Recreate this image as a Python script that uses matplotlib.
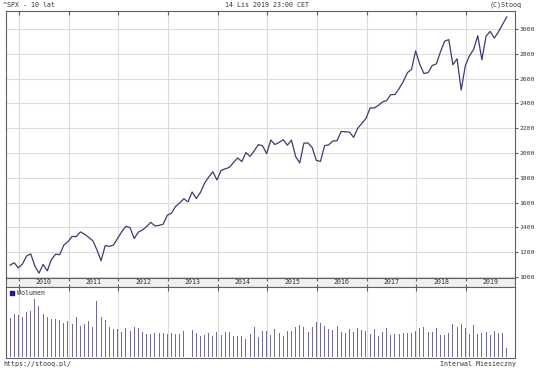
import matplotlib
matplotlib.use("Agg")
import matplotlib.pyplot as plt
import numpy as np

# S&P 500 monthly closes, Nov 2009 .. Nov 2019
close = [
    1095.6, 1115.1,
    1073.9, 1104.5, 1169.4, 1186.7, 1089.4, 1030.7, 1101.6, 1049.3, 1141.2, 1183.3, 1180.6, 1257.6,
    1286.1, 1327.2, 1325.8, 1363.6, 1345.2, 1320.6, 1292.3, 1218.9, 1131.4, 1253.3, 1247.0, 1257.6,
    1312.4, 1365.7, 1408.5, 1397.9, 1310.3, 1362.2, 1379.3, 1406.6, 1440.7, 1412.2, 1416.2, 1426.2,
    1498.1, 1514.7, 1569.2, 1597.6, 1630.7, 1606.3, 1685.7, 1633.0, 1681.6, 1756.5, 1805.8, 1848.4,
    1782.6, 1859.5, 1872.3, 1884.0, 1923.6, 1960.2, 1930.7, 2003.4, 1972.3, 2018.1, 2067.6, 2058.9,
    1995.0, 2104.5, 2067.9, 2085.5, 2107.4, 2063.1, 2103.8, 1972.2, 1920.0, 2079.4, 2080.4, 2043.9,
    1940.2, 1932.2, 2059.7, 2065.3, 2097.0, 2098.9, 2173.6, 2171.0, 2168.3, 2126.2, 2198.8, 2238.8,
    2278.9, 2363.6, 2362.7, 2384.2, 2411.8, 2423.4, 2470.3, 2471.7, 2519.4, 2575.3, 2647.6, 2673.6,
    2823.8, 2713.8, 2640.9, 2648.1, 2705.3, 2718.4, 2816.3, 2901.5, 2914.0, 2711.7, 2760.2, 2506.9,
    2704.1, 2784.5, 2834.4, 2945.8, 2752.1, 2941.8, 2980.4, 2926.5, 2976.7, 3037.6, 3096.6,
]

# monthly volume (arbitrary units)
volume = [
    119, 131,
    126, 122, 136, 138, 175, 154, 131, 120, 115, 116, 112, 103,
    109, 100, 120, 94, 100, 110, 91, 168, 122, 112, 92, 85,
    84, 77, 87, 79, 90, 87, 77, 70, 70, 72, 74, 72,
    70, 74, 69, 69, 79, 76, 81, 72, 64, 68, 74, 65,
    76, 68, 75, 75, 63, 63, 64, 55, 69, 90, 61, 79,
    79, 67, 85, 74, 65, 79, 79, 90, 97, 90, 76, 90,
    106, 104, 94, 84, 82, 94, 75, 74, 84, 75, 88, 82,
    79, 71, 85, 65, 75, 88, 67, 70, 70, 72, 72, 72,
    80, 88, 90, 77, 77, 88, 68, 68, 73, 99, 90, 100,
    88, 70, 96, 69, 72, 75, 66, 79, 73, 72, 29,
]

years = ["2010", "2011", "2012", "2013", "2014", "2015", "2016", "2017", "2018", "2019"]
first_jan = 2  # index of Jan 2010 in the series

W, H = 536, 368
fig = plt.figure(figsize=(W / 100, H / 100), dpi=100)
plt.rcParams['font.family'] = 'DejaVu Sans Mono'

def box(x0, y0, x1, y1):
    return [x0 / W, 1 - y1 / H, (x1 - x0) / W, (y1 - y0) / H]

ax = fig.add_axes(box(6, 11, 515, 278))
axs = fig.add_axes(box(6, 278, 515, 287))
axv = fig.add_axes(box(6, 287, 515, 358))

x = np.arange(len(close))
bounds = [first_jan + 0.17 + 12 * i for i in range(len(years))]
xlim = (-0.97, 122.0)
edge = '#606060'
grid = '#dcdcdc'
txt = '#333333'

# price panel
ax.plot(x, close, color='#3c3c6e', lw=0.9)
ax.set_xlim(xlim)
ax.set_ylim(992, 3145)
ax.set_yticks(range(1000, 3001, 200))
ax.set_xticks(bounds)
ax.grid(True, color=grid, lw=0.8)
ax.set_axisbelow(True)
ax.yaxis.tick_right()
ax.tick_params(axis='y', right=True, left=False, direction='out', length=2.5,
               width=0.8, color=edge, labelsize=4.6, pad=0.5, labelcolor=txt)
ax.tick_params(axis='x', top=True, bottom=False, direction='in', length=3,
               width=0.8, color=edge, labelbottom=False)
for s in ax.spines.values():
    s.set_color(edge)
    s.set_linewidth(0.8)

# year strip
axs.set_facecolor('#f0f0f0')
axs.set_xlim(xlim)
axs.set_ylim(0, 1)
axs.set_xticks(bounds)
axs.set_yticks([])
axs.tick_params(axis='x', top=True, bottom=True, direction='in', length=2,
                width=0.8, color=edge, labelbottom=False)
for b, yr in zip(bounds, years):
    axs.text(b + 6, 0.5, yr, ha='center', va='center', fontsize=4.8, color=txt)
for s in axs.spines.values():
    s.set_color(edge)
    s.set_linewidth(0.8)

# volume panel
axv.bar(x, volume, width=0.24, color='#6e6e96', linewidth=0, antialiased=False)
axv.set_xlim(xlim)
axv.set_ylim(-2, 211)
axv.set_xticks(bounds)
axv.set_yticks([])
axv.grid(True, axis='x', color=grid, lw=0.8)
axv.set_axisbelow(True)
axv.tick_params(axis='x', top=True, bottom=False, direction='in', length=3,
                width=0.8, color=edge, labelbottom=False)
for s in axv.spines.values():
    s.set_color(edge)
    s.set_linewidth(0.8)
axv.scatter([0.012], [0.915], marker='s', s=9, color='#1c1c8c',
            transform=axv.transAxes, clip_on=False)
axv.text(0.022, 0.915, "Wolumen", transform=axv.transAxes, fontsize=4.8,
         va='center', ha='left', color=txt)

# header and footer
fig.text(3 / W, 1 - 5 / H, "^SPX - 10 lat", fontsize=4.8, va='center', ha='left', color=txt)
fig.text(267 / W, 1 - 5 / H, "14 Lis 2019 23:00 CET", fontsize=4.8, va='center', ha='center', color=txt)
fig.text(522 / W, 1 - 5 / H, "(C)Stooq", fontsize=4.8, va='center', ha='right', color=txt)
fig.text(3 / W, 1 - 364 / H, "https://stooq.pl/", fontsize=4.8, va='center', ha='left', color=txt)
fig.text(516 / W, 1 - 364 / H, "Interwal Miesieczny", fontsize=4.8, va='center', ha='right', color=txt)

fig.savefig('out.png', dpi=100)
